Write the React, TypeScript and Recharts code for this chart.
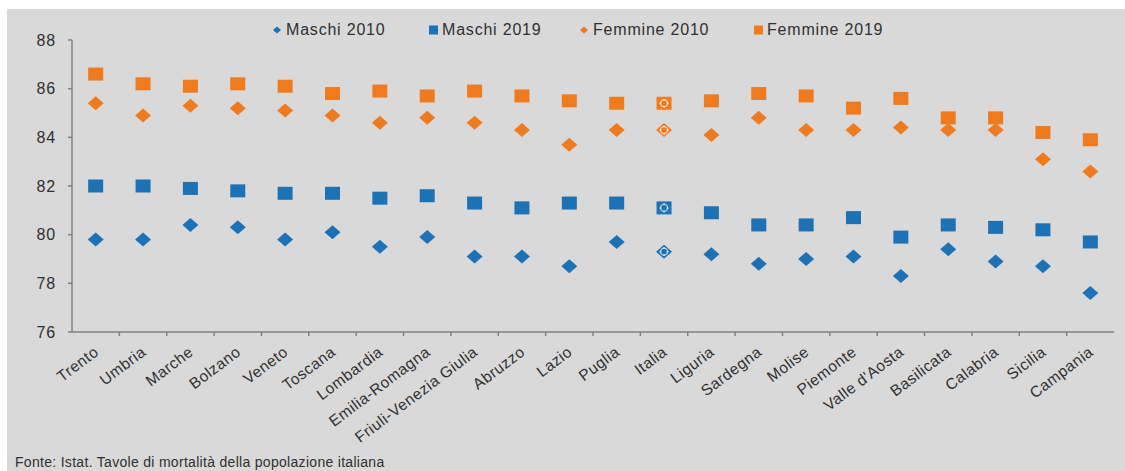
import { ComposedChart, Scatter, XAxis, YAxis, Legend } from 'recharts'

const categories = [
  'Trento', 'Umbria', 'Marche', 'Bolzano', 'Veneto', 'Toscana', 'Lombardia',
  'Emilia-Romagna', 'Friuli-Venezia Giulia', 'Abruzzo', 'Lazio', 'Puglia', 'Italia',
  'Liguria', 'Sardegna', 'Molise', 'Piemonte', "Valle d'Aosta", 'Basilicata',
  'Calabria', 'Sicilia', 'Campania',
]
const maschi2010 = [79.8, 79.8, 80.4, 80.3, 79.8, 80.1, 79.5, 79.9, 79.1, 79.1, 78.7, 79.7, 79.3, 79.2, 78.8, 79.0, 79.1, 78.3, 79.4, 78.9, 78.7, 77.6]
const maschi2019 = [82.0, 82.0, 81.9, 81.8, 81.7, 81.7, 81.5, 81.6, 81.3, 81.1, 81.3, 81.3, 81.1, 80.9, 80.4, 80.4, 80.7, 79.9, 80.4, 80.3, 80.2, 79.7]
const femmine2010 = [85.4, 84.9, 85.3, 85.2, 85.1, 84.9, 84.6, 84.8, 84.6, 84.3, 83.7, 84.3, 84.3, 84.1, 84.8, 84.3, 84.3, 84.4, 84.3, 84.3, 83.1, 82.6]
const femmine2019 = [86.6, 86.2, 86.1, 86.2, 86.1, 85.8, 85.9, 85.7, 85.9, 85.7, 85.5, 85.4, 85.4, 85.5, 85.8, 85.7, 85.2, 85.6, 84.8, 84.8, 84.2, 83.9]
const yTicks = [76, 78, 80, 82, 84, 86, 88]

const BLUE = '#1d72b5'
const ORANGE = '#ef7b1e'
const AXIS = '#808080'
const TEXT = '#303030'
const FONT = '"Liberation Sans", Arial, sans-serif'

const W = 1125
const H = 471
const MARGIN = { top: 40, right: 11, left: 12, bottom: 0 }
const Y_AXIS_W = 60
const X_AXIS_H = 139
const BAND = (W - MARGIN.left - MARGIN.right - Y_AXIS_W) / categories.length

const data = categories.map((name, i) => ({
  name,
  m2010: maschi2010[i],
  m2019: maschi2019[i],
  f2010: femmine2010[i],
  f2019: femmine2019[i],
}))

// Italia gets a white dotted overlay like in the source
function Dots({ cx, cy }: { cx: number; cy: number }) {
  return (
    <g fill="#fff" opacity={0.85}>
      <circle cx={cx} cy={cy} r={3.6} fill="none" stroke="#fff" strokeWidth={1} />
      <circle cx={cx - 3.6} cy={cy} r={1} />
      <circle cx={cx + 3.6} cy={cy} r={1} />
      <circle cx={cx} cy={cy - 3.6} r={1} />
      <circle cx={cx} cy={cy + 3.6} r={1} />
    </g>
  )
}

const makeSquare = (color: string) => (props: any) => {
  const { cx, cy, payload } = props
  if (cx == null || cy == null) return null
  return (
    <g>
      <rect x={cx - 7.5} y={cy - 6.5} width={15} height={13} fill={color} />
      {payload?.name === 'Italia' && <Dots cx={cx} cy={cy} />}
    </g>
  )
}

const makeDiamond = (color: string) => (props: any) => {
  const { cx, cy, payload } = props
  if (cx == null || cy == null) return null
  return (
    <g>
      <polygon
        points={`${cx},${cy - 7} ${cx + 8},${cy} ${cx},${cy + 7} ${cx - 8},${cy}`}
        fill={color}
      />
      {payload?.name === 'Italia' && <Dots cx={cx} cy={cy} />}
    </g>
  )
}

function XTick(props: any) {
  const { x, y, payload, index } = props
  return (
    <g>
      {index > 0 && (
        <line x1={x - BAND / 2} x2={x - BAND / 2} y1={y} y2={y + 4} stroke={AXIS} strokeWidth={1.5} />
      )}
      <text
        x={x + 4}
        y={y + 22}
        transform={`rotate(-37 ${x + 4} ${y + 22})`}
        textAnchor="end"
        fontFamily={FONT}
        fontSize={15.5}
        letterSpacing={0.5}
        fill={TEXT}
      >
        {payload.value}
      </text>
    </g>
  )
}

const legendItems = [
  { label: 'Maschi 2010', color: BLUE, shape: 'diamond', left: 272 },
  { label: 'Maschi 2019', color: BLUE, shape: 'square', left: 428 },
  { label: 'Femmine 2010', color: ORANGE, shape: 'diamond', left: 579 },
  { label: 'Femmine 2019', color: ORANGE, shape: 'square', left: 753 },
]

function LegendContent() {
  return (
    <div style={{ position: 'relative', height: 24 }}>
      {legendItems.map((it) => (
        <div
          key={it.label}
          style={{
            position: 'absolute',
            left: it.left,
            top: 0,
            display: 'flex',
            alignItems: 'center',
            whiteSpace: 'nowrap',
            fontFamily: FONT,
            fontSize: 16,
            letterSpacing: 0.8,
            color: TEXT,
          }}
        >
          <svg width={11} height={12} style={{ marginRight: 3 }}>
            {it.shape === 'diamond' ? (
              <polygon points="5,2.5 9,6 5,9.5 1,6" fill={it.color} />
            ) : (
              <rect x={1} y={1.5} width={9} height={9} fill={it.color} />
            )}
          </svg>
          {it.label}
        </div>
      ))}
    </div>
  )
}

export default function App() {
  return (
    <div style={{ position: 'absolute', left: 0, top: 0, width: W, height: H, background: '#fff', overflow: 'hidden' }}>
      <div style={{ position: 'absolute', left: 7, top: 9, right: 0, bottom: 0, background: '#d9d9d9' }} />
      <div style={{ position: 'absolute', left: 0, top: 0 }}>
        <ComposedChart width={W} height={H} data={data} margin={MARGIN}>
          <XAxis
            dataKey="name"
            type="category"
            interval={0}
            height={X_AXIS_H}
            padding={{ left: BAND / 2, right: BAND / 2 }}
            tickSize={0}
            tickMargin={0}
            tickLine={false}
            axisLine={{ stroke: AXIS, strokeWidth: 1.5 }}
            tick={<XTick />}
          />
          <YAxis
            domain={[76, 88]}
            ticks={yTicks}
            width={Y_AXIS_W}
            tickSize={4}
            tickMargin={12}
            axisLine={{ stroke: AXIS, strokeWidth: 1.5 }}
            tickLine={{ stroke: AXIS, strokeWidth: 1.5 }}
            tick={{ fill: TEXT, fontSize: 16, fontFamily: FONT, letterSpacing: 0.8 }}
          />
          <Legend
            layout="horizontal"
            verticalAlign="middle"
            content={<LegendContent />}
            wrapperStyle={{ position: 'absolute', top: 21, left: 0, width: W }}
          />
          <Scatter name="Maschi 2010" dataKey="m2010" shape={makeDiamond(BLUE)} isAnimationActive={false} />
          <Scatter name="Maschi 2019" dataKey="m2019" shape={makeSquare(BLUE)} isAnimationActive={false} />
          <Scatter name="Femmine 2010" dataKey="f2010" shape={makeDiamond(ORANGE)} isAnimationActive={false} />
          <Scatter name="Femmine 2019" dataKey="f2019" shape={makeSquare(ORANGE)} isAnimationActive={false} />
        </ComposedChart>
      </div>
      <div
        style={{
          position: 'absolute',
          left: 15,
          top: 454,
          fontFamily: FONT,
          fontSize: 14,
          lineHeight: '16px',
          letterSpacing: 0.3,
          color: TEXT,
          whiteSpace: 'nowrap',
        }}
      >
        Fonte: Istat. Tavole di mortalità della popolazione italiana
      </div>
    </div>
  )
}
